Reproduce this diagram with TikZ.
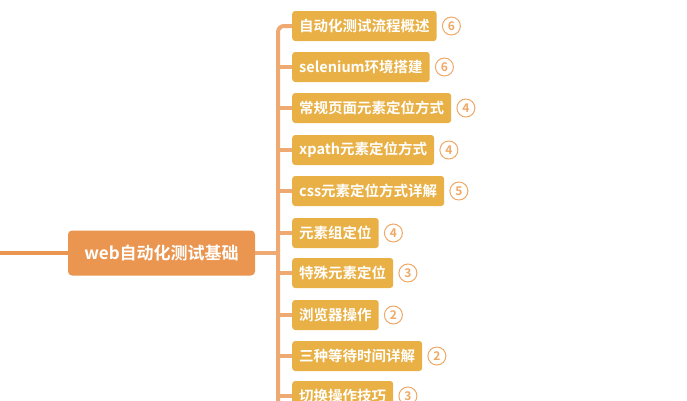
\documentclass[tikz,border=0pt]{standalone}
\usepackage{fontspec}
\setmainfont{Noto Sans CJK SC Bold}
\definecolor{mainc}{HTML}{EA9550}
\definecolor{itemc}{HTML}{E8B045}
\definecolor{trunk}{HTML}{EEAA72}
\definecolor{numc}{HTML}{EFA865}
\begin{document}
\begin{tikzpicture}[x=1pt,y=-1pt,
  item/.style={fill=itemc,text=white,rounded corners=3pt,anchor=west,minimum height=30pt,inner xsep=7pt,font=\fontsize{14.5}{14.5}\selectfont},
  num/.style={circle,draw=numc,line width=1pt,text=numc,minimum size=18pt,inner sep=0pt,anchor=west,font=\fontsize{12}{12}\selectfont},
  conn/.style={trunk,line width=4pt}]
\useasboundingbox (0,0) rectangle (687,400);
\clip (0,0) rectangle (687,400);
\node[fill=mainc,text=white,rounded corners=4pt,minimum width=187pt,minimum height=45pt,font=\fontsize{17}{17}\selectfont] (root) at (161.5,253) {web自动化测试基础};
\coordinate (L) at (0,253);
\draw[conn,mainc] (L) -- (root.west);
\draw[conn] (root.east) -- (278,253);
\coordinate (tb) at (278,410);
\foreach \n/\y/\t/\k in {
 1/26/自动化测试流程概述/6,
 2/67/selenium环境搭建/6,
 3/108/常规页面元素定位方式/4,
 4/150/xpath元素定位方式/4,
 5/191/css元素定位方式详解/5,
 6/233/元素组定位/4,
 7/273/特殊元素定位/3,
 8/315/浏览器操作/2,
 9/356/三种等待时间详解/2,
 10/396/切换操作技巧/3}{
 \node[item] (i\n) at (292,\y) {\t};
 \node[num] (c\n) at ([xshift=5pt]i\n.east) {\k};
}
\draw[conn,rounded corners=6pt] (i1.west) -- (278,26) -- (tb);
\foreach \n in {2,...,10}{\draw[conn] (i\n.west) -- (i\n.west -| tb);}
\end{tikzpicture}
\end{document}
